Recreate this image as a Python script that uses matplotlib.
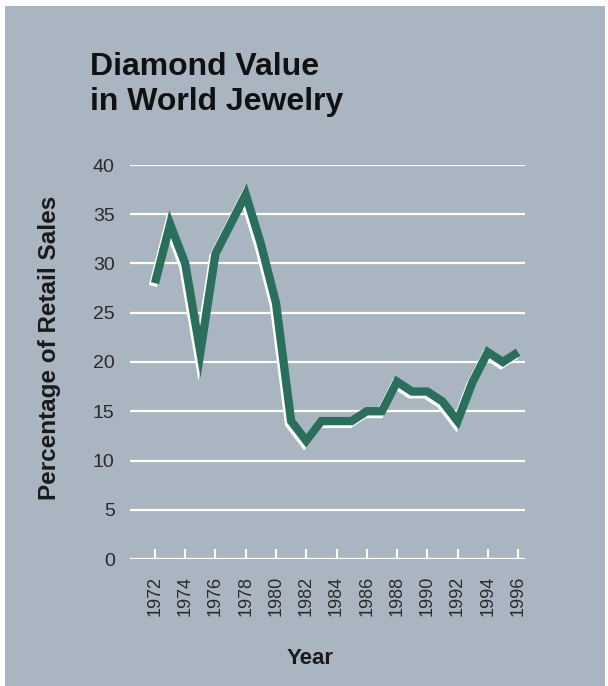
import matplotlib
matplotlib.use("Agg")
from matplotlib import pyplot as plt
import matplotlib.patches as patches
import matplotlib.patheffects as pe

years = list(range(1972, 1997))
share = [28, 34, 30, 21, 31, 34, 37, 32, 26, 14, 12, 14, 14, 14, 15, 15,
         18, 17, 17, 16, 14, 18, 21, 20, 21]
yticks = [0, 5, 10, 15, 20, 25, 30, 35, 40]
xticks = list(range(1972, 1997, 2))

bg = "#a9b5c1"
green = "#2a6e5c"
plt.rcParams["font.family"] = ["Liberation Sans", "DejaVu Sans"]

fig = plt.figure(figsize=(6.08, 6.86), dpi=100)
fig.patch.set_facecolor("white")
fig.patches.append(patches.Rectangle((5 / 608, 0), 600 / 608, 680 / 686,
                                     transform=fig.transFigure,
                                     facecolor=bg, edgecolor="none", zorder=-5))

ax = fig.add_axes([130 / 608, 127 / 686, 395 / 608, 394 / 686])
ax.set_facecolor("none")
ax.set_zorder(2)
ax.set_xlim(1970.35, 1996.46)
ax.set_ylim(0, 40)

for v in yticks:
    ax.axhline(v, color="white", lw=1.6, zorder=1)

ax.plot(years, share, color=green, lw=6, solid_joinstyle="miter",
        solid_capstyle="butt", zorder=3, clip_on=False,
        path_effects=[pe.SimpleLineShadow(offset=(-1.5, -2), shadow_color="white",
                                          alpha=1.0, rho=1.0),
                      pe.Normal()])

for s in ax.spines.values():
    s.set_visible(False)

ax.set_yticks(yticks)
ax.set_yticklabels([str(v) for v in yticks], fontsize=14, color="#2a2a2a")
ax.tick_params(axis="y", length=0, pad=11)

ax.set_xticks(xticks)
ax.set_xticklabels([str(v) for v in xticks], rotation=90, fontsize=13,
                   color="#2a2a2a")
ax.tick_params(axis="x", direction="in", length=7, width=1.5, color="white",
               pad=12)

fig.text(50 / 608, 1 - 348 / 686, "Percentage of Retail Sales", rotation=90,
         fontsize=17.5, fontweight="bold", color="#1a1a1a",
         ha="center", va="center")
fig.text(310 / 608, 1 - 658 / 686, "Year", fontsize=16, fontweight="bold",
         color="#1a1a1a", ha="center", va="center")

fig.text(90 / 608, 1 - 110 / 686, "Diamond Value\nin World Jewelry",
         fontsize=23, fontweight="bold", color="#111111", va="baseline",
         ha="left", linespacing=1.22, zorder=3)

fig.savefig("out.png", dpi=100)
